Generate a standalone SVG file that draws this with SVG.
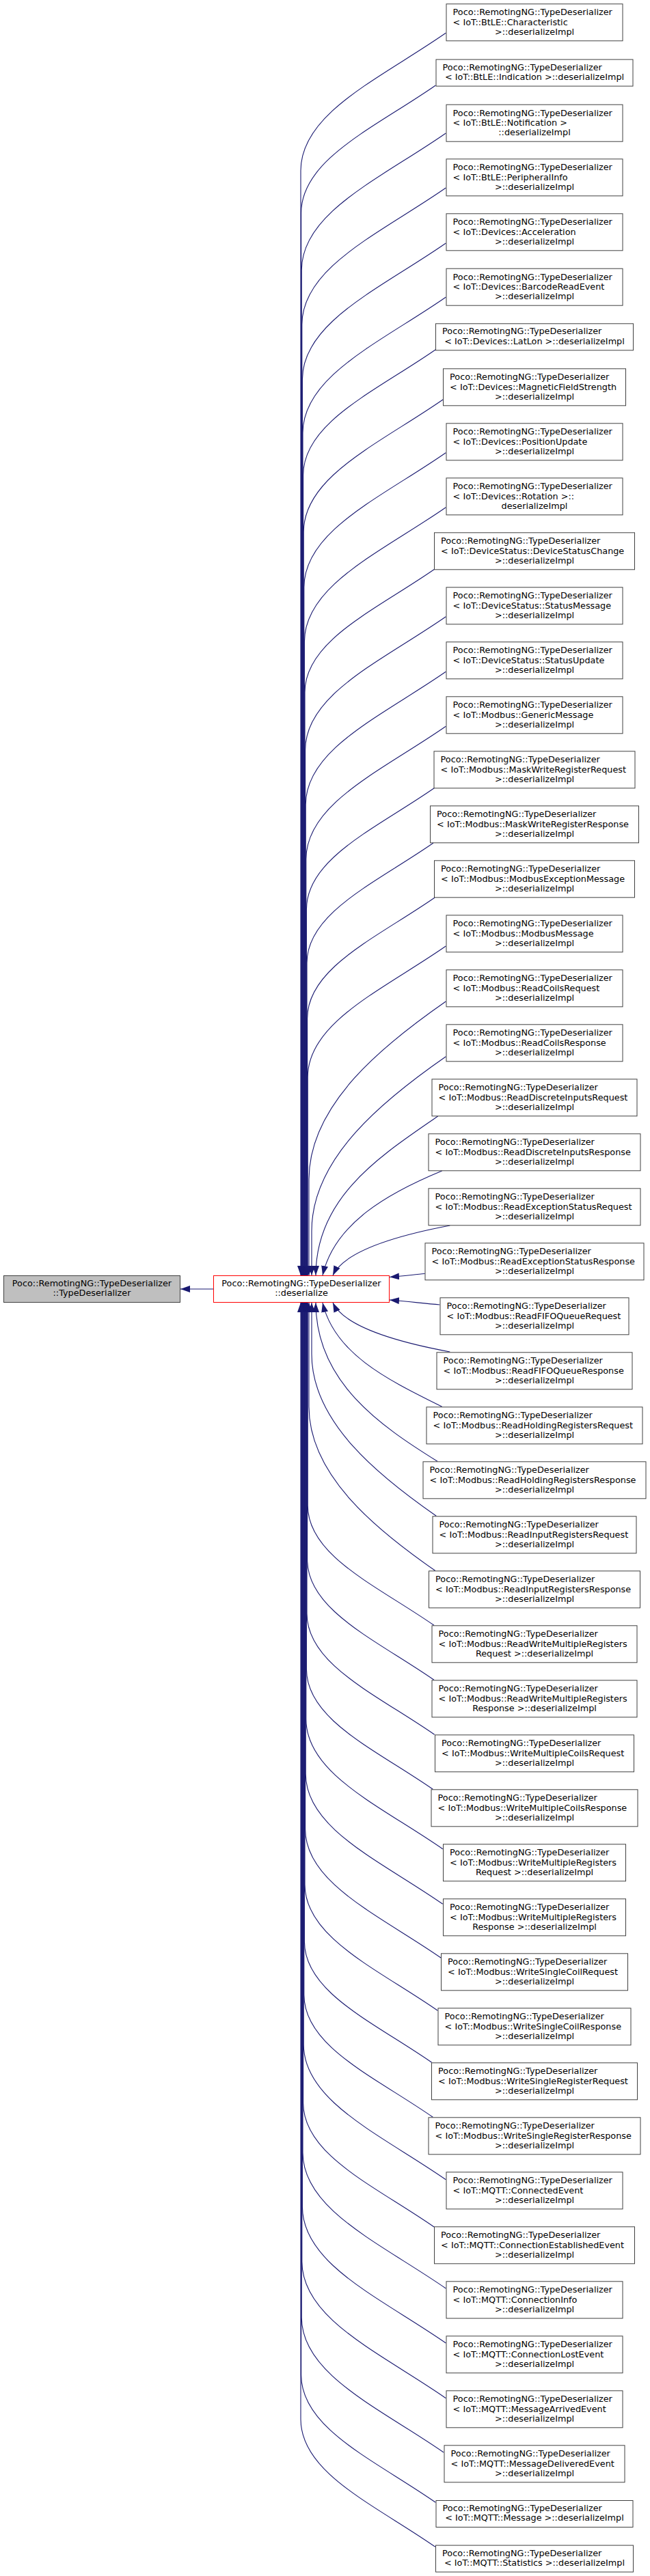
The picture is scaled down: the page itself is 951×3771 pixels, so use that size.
<svg xmlns="http://www.w3.org/2000/svg" width="951" height="3771" viewBox="0 0 951 3771">
<style>
text{font-family:"DejaVu Sans","Liberation Sans",sans-serif;font-size:12.8px;fill:#000}
.c{text-anchor:middle}
.node rect{fill:#fff;stroke:#404040;stroke-width:1}
#root rect{fill:#bfbfbf;stroke:#404040}
#deser rect{fill:#fff;stroke:#ff0000}
#edges path{fill:none;stroke:#191970;stroke-width:1.1;marker-end:url(#a)}
</style>
<defs>
<marker id="a" viewBox="0 0 14 10" refX="14" refY="5" markerWidth="14" markerHeight="10" markerUnits="userSpaceOnUse" orient="auto"><path d="M0,0 L14,5 L0,10 z" fill="#191970"/></marker>
</defs>
<rect width="951" height="3771" fill="#fff"/>
<g id="edges">
<path d="M312,1887 L264,1887"/>
<path d="M652.3,48.3 C556.6,114.9 440,165.1 440,250 L440,1867"/>
<path d="M637.3,125 C548.6,186.7 440.6,233.2 440.6,311.9 L440.6,1867"/>
<path d="M652.3,195 C557.1,261.2 441.2,311.1 441.2,395.5 L441.2,1867"/>
<path d="M652.3,275 C557.4,341 441.8,390.8 441.8,475 L441.8,1867"/>
<path d="M652.3,356 C557.6,421.8 442.4,471.4 442.4,555.4 L442.4,1867"/>
<path d="M652.3,435 C557.9,500.6 443,550.1 443,633.8 L443,1867"/>
<path d="M637,512 C549.8,572.6 443.6,618.4 443.6,695.7 L443.6,1867"/>
<path d="M648,585 C556.1,648.9 444.2,697.1 444.2,778.6 L444.2,1867"/>
<path d="M652.3,662.7 C558.7,727.8 444.8,776.8 444.8,859.8 L444.8,1867"/>
<path d="M652.3,742.7 C559,807.6 445.4,856.5 445.4,939.3 L445.4,1867"/>
<path d="M636,833 C550.3,892.6 446,937.5 446,1013.5 L446,1867"/>
<path d="M652.3,902.7 C559.5,967.2 446.6,1015.8 446.6,1098.1 L446.6,1867"/>
<path d="M652.3,983.3 C559.8,1047.6 447.2,1096.1 447.2,1178.1 L447.2,1867"/>
<path d="M652.3,1063.3 C560.1,1127.4 447.8,1175.8 447.8,1257.6 L447.8,1867"/>
<path d="M635.5,1153.5 C551.1,1212.2 448.4,1256.4 448.4,1331.2 L448.4,1867"/>
<path d="M634,1234 C550.6,1292 449,1335.8 449,1409.8 L449,1867"/>
<path d="M636,1314 C551.9,1372.4 449.6,1416.5 449.6,1491.1 L449.6,1867"/>
<path d="M652.3,1385 C561.2,1448.4 450.2,1496.2 450.2,1577 L450.2,1867"/>
<path d="M652.3,1466 C562,1528.8 452,1616.2 452,1726.4 L452,1867"/>
<path d="M652.3,1546.7 C563.8,1608.2 456,1693.9 456,1801.9 L456,1867"/>
<path d="M640.7,1634 C560.3,1689.9 462,1750.5 462,1867"/>
<path d="M646.7,1714 C568.5,1746.3 489.5,1790.5 472,1867"/>
<path d="M658.3,1794 C581.2,1808.6 504.1,1830.5 487,1867"/>
<path d="M621.7,1864.5 C605,1866 590,1868 570,1869.5"/>
<path d="M643.3,1910 C620,1908 595,1905 570,1903"/>
<path d="M658.3,1979 C581.2,1964.6 504.1,1943 487,1907"/>
<path d="M646.7,2059.3 C570.2,2021.1 489.5,1983 472,1907"/>
<path d="M640,2139.3 C556.7,2087.4 462,2023 462,1907"/>
<path d="M638.3,2219.3 C556.1,2162.1 456,2082.6 456,1982.3 L456,1907"/>
<path d="M636.7,2299.3 C553.4,2241.4 452,2160.8 452,2059.2 L452,1907"/>
<path d="M635,2379.3 C551.7,2321.4 450.2,2277.7 450.2,2203.7 L450.2,1907"/>
<path d="M635,2459.3 C551.4,2401.2 449.6,2357.3 449.6,2283.2 L449.6,1907"/>
<path d="M635.7,2539.3 C551.5,2480.8 449,2436.6 449,2361.9 L449,1907"/>
<path d="M633.3,2619.3 C549.9,2561.3 448.4,2517.6 448.4,2443.6 L448.4,1907"/>
<path d="M647.7,2706.7 C557.5,2644 447.8,2596.8 447.8,2516.8 L447.8,1907"/>
<path d="M647.7,2787.3 C557.3,2724.4 447.2,2677 447.2,2596.8 L447.2,1907"/>
<path d="M645,2866 C555.5,2803.8 446.6,2756.9 446.6,2677.5 L446.6,1907"/>
<path d="M640.3,2943.3 C552.7,2882.4 446,2836.4 446,2758.7 L446,1907"/>
<path d="M631.7,3019.3 C547.7,2960.9 445.4,2916.8 445.4,2842.3 L445.4,1907"/>
<path d="M633.3,3099.3 C548.3,3040.2 444.8,2995.6 444.8,2920.2 L444.8,1907"/>
<path d="M652.3,3190.7 C558.4,3125.5 444.2,3076.2 444.2,2993 L444.2,1907"/>
<path d="M635,3260 C548.7,3200 443.6,3154.7 443.6,3078.2 L443.6,1907"/>
<path d="M652.3,3350 C557.9,3284.4 443,3234.9 443,3151.2 L443,1907"/>
<path d="M652.3,3430 C557.6,3364.2 442.4,3314.6 442.4,3230.6 L442.4,1907"/>
<path d="M652.3,3510.7 C557.4,3444.7 441.8,3394.9 441.8,3310.7 L441.8,1907"/>
<path d="M649,3590 C555.3,3524.9 441.2,3475.7 441.2,3392.6 L441.2,1907"/>
<path d="M637.3,3663.3 C548.6,3601.6 440.6,3555.1 440.6,3476.4 L440.6,1907"/>
<path d="M636.7,3728.3 C548,3666.6 440,3620.1 440,3541.4 L440,1907"/>
</g>
<g id="root" class="node"><rect x="5.5" y="1867.5" width="258" height="39"/><text class="c" x="134.5" y="1882.9">Poco::RemotingNG::TypeDeserializer</text><text class="c" x="134.5" y="1897.2">::TypeDeserializer</text></g>
<g id="deser" class="node"><rect x="312.5" y="1867.5" width="257" height="39"/><text class="c" x="441" y="1882.9">Poco::RemotingNG::TypeDeserializer</text><text class="c" x="441" y="1897.2">::deserialize</text></g>
<g id="n1" class="node" transform="translate(782,32.8)"><rect x="-129" y="-27" width="258" height="54"/><text x="-119.4" y="-10.6">Poco::RemotingNG::TypeDeserializer</text><text x="-119.4" y="3.7">&lt; IoT::BtLE::Characteristic</text><text class="c" x="0" y="18">&gt;::deserializeImpl</text></g>
<g id="n2" class="node" transform="translate(782,106.6)"><rect x="-144" y="-19.5" width="288" height="39"/><text x="-134.4" y="-4.1">Poco::RemotingNG::TypeDeserializer</text><text class="c" x="0" y="10.2">&lt; IoT::BtLE::Indication &gt;::deserializeImpl</text></g>
<g id="n3" class="node" transform="translate(782,180.2)"><rect x="-129" y="-27" width="258" height="54"/><text x="-119.4" y="-10.6">Poco::RemotingNG::TypeDeserializer</text><text x="-119.4" y="3.7">&lt; IoT::BtLE::Notification &gt;</text><text class="c" x="0" y="18">::deserializeImpl</text></g>
<g id="n4" class="node" transform="translate(782,259.8)"><rect x="-129" y="-27" width="258" height="54"/><text x="-119.4" y="-10.6">Poco::RemotingNG::TypeDeserializer</text><text x="-119.4" y="3.7">&lt; IoT::BtLE::PeripheralInfo</text><text class="c" x="0" y="18">&gt;::deserializeImpl</text></g>
<g id="n5" class="node" transform="translate(782,339.8)"><rect x="-129" y="-27" width="258" height="54"/><text x="-119.4" y="-10.6">Poco::RemotingNG::TypeDeserializer</text><text x="-119.4" y="3.7">&lt; IoT::Devices::Acceleration</text><text class="c" x="0" y="18">&gt;::deserializeImpl</text></g>
<g id="n6" class="node" transform="translate(782,420.2)"><rect x="-129" y="-27" width="258" height="54"/><text x="-119.4" y="-10.6">Poco::RemotingNG::TypeDeserializer</text><text x="-119.4" y="3.7">&lt; IoT::Devices::BarcodeReadEvent</text><text class="c" x="0" y="18">&gt;::deserializeImpl</text></g>
<g id="n7" class="node" transform="translate(782,493.3)"><rect x="-144.5" y="-19.5" width="289" height="39"/><text x="-134.9" y="-4.1">Poco::RemotingNG::TypeDeserializer</text><text class="c" x="0" y="10.2">&lt; IoT::Devices::LatLon &gt;::deserializeImpl</text></g>
<g id="n8" class="node" transform="translate(782,566.8)"><rect x="-133.5" y="-27" width="267" height="54"/><text x="-123.9" y="-10.6">Poco::RemotingNG::TypeDeserializer</text><text x="-123.9" y="3.7">&lt; IoT::Devices::MagneticFieldStrength</text><text class="c" x="0" y="18">&gt;::deserializeImpl</text></g>
<g id="n9" class="node" transform="translate(782,646.8)"><rect x="-129" y="-27" width="258" height="54"/><text x="-119.4" y="-10.6">Poco::RemotingNG::TypeDeserializer</text><text x="-119.4" y="3.7">&lt; IoT::Devices::PositionUpdate</text><text class="c" x="0" y="18">&gt;::deserializeImpl</text></g>
<g id="n10" class="node" transform="translate(782,726.8)"><rect x="-129" y="-27" width="258" height="54"/><text x="-119.4" y="-10.6">Poco::RemotingNG::TypeDeserializer</text><text x="-119.4" y="3.7">&lt; IoT::Devices::Rotation &gt;::</text><text class="c" x="0" y="18">deserializeImpl</text></g>
<g id="n11" class="node" transform="translate(782,806.8)"><rect x="-146.5" y="-27" width="293" height="54"/><text x="-136.9" y="-10.6">Poco::RemotingNG::TypeDeserializer</text><text x="-136.9" y="3.7">&lt; IoT::DeviceStatus::DeviceStatusChange</text><text class="c" x="0" y="18">&gt;::deserializeImpl</text></g>
<g id="n12" class="node" transform="translate(782,886.8)"><rect x="-129" y="-27" width="258" height="54"/><text x="-119.4" y="-10.6">Poco::RemotingNG::TypeDeserializer</text><text x="-119.4" y="3.7">&lt; IoT::DeviceStatus::StatusMessage</text><text class="c" x="0" y="18">&gt;::deserializeImpl</text></g>
<g id="n13" class="node" transform="translate(782,966.8)"><rect x="-129" y="-27" width="258" height="54"/><text x="-119.4" y="-10.6">Poco::RemotingNG::TypeDeserializer</text><text x="-119.4" y="3.7">&lt; IoT::DeviceStatus::StatusUpdate</text><text class="c" x="0" y="18">&gt;::deserializeImpl</text></g>
<g id="n14" class="node" transform="translate(782,1046.8)"><rect x="-129" y="-27" width="258" height="54"/><text x="-119.4" y="-10.6">Poco::RemotingNG::TypeDeserializer</text><text x="-119.4" y="3.7">&lt; IoT::Modbus::GenericMessage</text><text class="c" x="0" y="18">&gt;::deserializeImpl</text></g>
<g id="n15" class="node" transform="translate(782,1126.8)"><rect x="-147" y="-27" width="294" height="54"/><text x="-137.4" y="-10.6">Poco::RemotingNG::TypeDeserializer</text><text x="-137.4" y="3.7">&lt; IoT::Modbus::MaskWriteRegisterRequest</text><text class="c" x="0" y="18">&gt;::deserializeImpl</text></g>
<g id="n16" class="node" transform="translate(782,1206.8)"><rect x="-152.5" y="-27" width="305" height="54"/><text x="-142.9" y="-10.6">Poco::RemotingNG::TypeDeserializer</text><text x="-142.9" y="3.7">&lt; IoT::Modbus::MaskWriteRegisterResponse</text><text class="c" x="0" y="18">&gt;::deserializeImpl</text></g>
<g id="n17" class="node" transform="translate(782,1286.8)"><rect x="-146.5" y="-27" width="293" height="54"/><text x="-136.9" y="-10.6">Poco::RemotingNG::TypeDeserializer</text><text x="-136.9" y="3.7">&lt; IoT::Modbus::ModbusExceptionMessage</text><text class="c" x="0" y="18">&gt;::deserializeImpl</text></g>
<g id="n18" class="node" transform="translate(782,1366.8)"><rect x="-129" y="-27" width="258" height="54"/><text x="-119.4" y="-10.6">Poco::RemotingNG::TypeDeserializer</text><text x="-119.4" y="3.7">&lt; IoT::Modbus::ModbusMessage</text><text class="c" x="0" y="18">&gt;::deserializeImpl</text></g>
<g id="n19" class="node" transform="translate(782,1446.8)"><rect x="-129" y="-27" width="258" height="54"/><text x="-119.4" y="-10.6">Poco::RemotingNG::TypeDeserializer</text><text x="-119.4" y="3.7">&lt; IoT::Modbus::ReadCoilsRequest</text><text class="c" x="0" y="18">&gt;::deserializeImpl</text></g>
<g id="n20" class="node" transform="translate(782,1526.8)"><rect x="-129" y="-27" width="258" height="54"/><text x="-119.4" y="-10.6">Poco::RemotingNG::TypeDeserializer</text><text x="-119.4" y="3.7">&lt; IoT::Modbus::ReadCoilsResponse</text><text class="c" x="0" y="18">&gt;::deserializeImpl</text></g>
<g id="n21" class="node" transform="translate(782,1606.8)"><rect x="-150" y="-27" width="300" height="54"/><text x="-140.4" y="-10.6">Poco::RemotingNG::TypeDeserializer</text><text x="-140.4" y="3.7">&lt; IoT::Modbus::ReadDiscreteInputsRequest</text><text class="c" x="0" y="18">&gt;::deserializeImpl</text></g>
<g id="n22" class="node" transform="translate(782,1686.8)"><rect x="-155" y="-27" width="310" height="54"/><text x="-145.4" y="-10.6">Poco::RemotingNG::TypeDeserializer</text><text x="-145.4" y="3.7">&lt; IoT::Modbus::ReadDiscreteInputsResponse</text><text class="c" x="0" y="18">&gt;::deserializeImpl</text></g>
<g id="n23" class="node" transform="translate(782,1766.8)"><rect x="-155" y="-27" width="310" height="54"/><text x="-145.4" y="-10.6">Poco::RemotingNG::TypeDeserializer</text><text x="-145.4" y="3.7">&lt; IoT::Modbus::ReadExceptionStatusRequest</text><text class="c" x="0" y="18">&gt;::deserializeImpl</text></g>
<g id="n24" class="node" transform="translate(782,1846.8)"><rect x="-160" y="-27" width="320" height="54"/><text x="-150.4" y="-10.6">Poco::RemotingNG::TypeDeserializer</text><text x="-150.4" y="3.7">&lt; IoT::Modbus::ReadExceptionStatusResponse</text><text class="c" x="0" y="18">&gt;::deserializeImpl</text></g>
<g id="n25" class="node" transform="translate(782,1926.8)"><rect x="-138" y="-27" width="276" height="54"/><text x="-128.4" y="-10.6">Poco::RemotingNG::TypeDeserializer</text><text x="-128.4" y="3.7">&lt; IoT::Modbus::ReadFIFOQueueRequest</text><text class="c" x="0" y="18">&gt;::deserializeImpl</text></g>
<g id="n26" class="node" transform="translate(782,2006.8)"><rect x="-143" y="-27" width="286" height="54"/><text x="-133.4" y="-10.6">Poco::RemotingNG::TypeDeserializer</text><text x="-133.4" y="3.7">&lt; IoT::Modbus::ReadFIFOQueueResponse</text><text class="c" x="0" y="18">&gt;::deserializeImpl</text></g>
<g id="n27" class="node" transform="translate(782,2086.8)"><rect x="-158" y="-27" width="316" height="54"/><text x="-148.4" y="-10.6">Poco::RemotingNG::TypeDeserializer</text><text x="-148.4" y="3.7">&lt; IoT::Modbus::ReadHoldingRegistersRequest</text><text class="c" x="0" y="18">&gt;::deserializeImpl</text></g>
<g id="n28" class="node" transform="translate(782,2166.8)"><rect x="-163" y="-27" width="326" height="54"/><text x="-153.4" y="-10.6">Poco::RemotingNG::TypeDeserializer</text><text x="-153.4" y="3.7">&lt; IoT::Modbus::ReadHoldingRegistersResponse</text><text class="c" x="0" y="18">&gt;::deserializeImpl</text></g>
<g id="n29" class="node" transform="translate(782,2246.8)"><rect x="-149" y="-27" width="298" height="54"/><text x="-139.4" y="-10.6">Poco::RemotingNG::TypeDeserializer</text><text x="-139.4" y="3.7">&lt; IoT::Modbus::ReadInputRegistersRequest</text><text class="c" x="0" y="18">&gt;::deserializeImpl</text></g>
<g id="n30" class="node" transform="translate(782,2326.8)"><rect x="-154.5" y="-27" width="309" height="54"/><text x="-144.9" y="-10.6">Poco::RemotingNG::TypeDeserializer</text><text x="-144.9" y="3.7">&lt; IoT::Modbus::ReadInputRegistersResponse</text><text class="c" x="0" y="18">&gt;::deserializeImpl</text></g>
<g id="n31" class="node" transform="translate(782,2406.8)"><rect x="-150" y="-27" width="300" height="54"/><text x="-140.4" y="-10.6">Poco::RemotingNG::TypeDeserializer</text><text x="-140.4" y="3.7">&lt; IoT::Modbus::ReadWriteMultipleRegisters</text><text class="c" x="0" y="18">Request &gt;::deserializeImpl</text></g>
<g id="n32" class="node" transform="translate(782,2486.8)"><rect x="-150" y="-27" width="300" height="54"/><text x="-140.4" y="-10.6">Poco::RemotingNG::TypeDeserializer</text><text x="-140.4" y="3.7">&lt; IoT::Modbus::ReadWriteMultipleRegisters</text><text class="c" x="0" y="18">Response &gt;::deserializeImpl</text></g>
<g id="n33" class="node" transform="translate(782,2566.8)"><rect x="-145.5" y="-27" width="291" height="54"/><text x="-135.9" y="-10.6">Poco::RemotingNG::TypeDeserializer</text><text x="-135.9" y="3.7">&lt; IoT::Modbus::WriteMultipleCoilsRequest</text><text class="c" x="0" y="18">&gt;::deserializeImpl</text></g>
<g id="n34" class="node" transform="translate(782,2646.8)"><rect x="-151" y="-27" width="302" height="54"/><text x="-141.4" y="-10.6">Poco::RemotingNG::TypeDeserializer</text><text x="-141.4" y="3.7">&lt; IoT::Modbus::WriteMultipleCoilsResponse</text><text class="c" x="0" y="18">&gt;::deserializeImpl</text></g>
<g id="n35" class="node" transform="translate(782,2726.8)"><rect x="-133.5" y="-27" width="267" height="54"/><text x="-123.9" y="-10.6">Poco::RemotingNG::TypeDeserializer</text><text x="-123.9" y="3.7">&lt; IoT::Modbus::WriteMultipleRegisters</text><text class="c" x="0" y="18">Request &gt;::deserializeImpl</text></g>
<g id="n36" class="node" transform="translate(782,2806.8)"><rect x="-133.5" y="-27" width="267" height="54"/><text x="-123.9" y="-10.6">Poco::RemotingNG::TypeDeserializer</text><text x="-123.9" y="3.7">&lt; IoT::Modbus::WriteMultipleRegisters</text><text class="c" x="0" y="18">Response &gt;::deserializeImpl</text></g>
<g id="n37" class="node" transform="translate(782,2886.8)"><rect x="-136.5" y="-27" width="273" height="54"/><text x="-126.9" y="-10.6">Poco::RemotingNG::TypeDeserializer</text><text x="-126.9" y="3.7">&lt; IoT::Modbus::WriteSingleCoilRequest</text><text class="c" x="0" y="18">&gt;::deserializeImpl</text></g>
<g id="n38" class="node" transform="translate(782,2966.8)"><rect x="-141" y="-27" width="282" height="54"/><text x="-131.4" y="-10.6">Poco::RemotingNG::TypeDeserializer</text><text x="-131.4" y="3.7">&lt; IoT::Modbus::WriteSingleCoilResponse</text><text class="c" x="0" y="18">&gt;::deserializeImpl</text></g>
<g id="n39" class="node" transform="translate(782,3046.8)"><rect x="-150.5" y="-27" width="301" height="54"/><text x="-140.9" y="-10.6">Poco::RemotingNG::TypeDeserializer</text><text x="-140.9" y="3.7">&lt; IoT::Modbus::WriteSingleRegisterRequest</text><text class="c" x="0" y="18">&gt;::deserializeImpl</text></g>
<g id="n40" class="node" transform="translate(782,3126.8)"><rect x="-155" y="-27" width="310" height="54"/><text x="-145.4" y="-10.6">Poco::RemotingNG::TypeDeserializer</text><text x="-145.4" y="3.7">&lt; IoT::Modbus::WriteSingleRegisterResponse</text><text class="c" x="0" y="18">&gt;::deserializeImpl</text></g>
<g id="n41" class="node" transform="translate(782,3206.8)"><rect x="-129" y="-27" width="258" height="54"/><text x="-119.4" y="-10.6">Poco::RemotingNG::TypeDeserializer</text><text x="-119.4" y="3.7">&lt; IoT::MQTT::ConnectedEvent</text><text class="c" x="0" y="18">&gt;::deserializeImpl</text></g>
<g id="n42" class="node" transform="translate(782,3286.8)"><rect x="-146.5" y="-27" width="293" height="54"/><text x="-136.9" y="-10.6">Poco::RemotingNG::TypeDeserializer</text><text x="-136.9" y="3.7">&lt; IoT::MQTT::ConnectionEstablishedEvent</text><text class="c" x="0" y="18">&gt;::deserializeImpl</text></g>
<g id="n43" class="node" transform="translate(782,3366.8)"><rect x="-129" y="-27" width="258" height="54"/><text x="-119.4" y="-10.6">Poco::RemotingNG::TypeDeserializer</text><text x="-119.4" y="3.7">&lt; IoT::MQTT::ConnectionInfo</text><text class="c" x="0" y="18">&gt;::deserializeImpl</text></g>
<g id="n44" class="node" transform="translate(782,3446.8)"><rect x="-129" y="-27" width="258" height="54"/><text x="-119.4" y="-10.6">Poco::RemotingNG::TypeDeserializer</text><text x="-119.4" y="3.7">&lt; IoT::MQTT::ConnectionLostEvent</text><text class="c" x="0" y="18">&gt;::deserializeImpl</text></g>
<g id="n45" class="node" transform="translate(782,3526.8)"><rect x="-129" y="-27" width="258" height="54"/><text x="-119.4" y="-10.6">Poco::RemotingNG::TypeDeserializer</text><text x="-119.4" y="3.7">&lt; IoT::MQTT::MessageArrivedEvent</text><text class="c" x="0" y="18">&gt;::deserializeImpl</text></g>
<g id="n46" class="node" transform="translate(782,3606.8)"><rect x="-132" y="-27" width="264" height="54"/><text x="-122.4" y="-10.6">Poco::RemotingNG::TypeDeserializer</text><text x="-122.4" y="3.7">&lt; IoT::MQTT::MessageDeliveredEvent</text><text class="c" x="0" y="18">&gt;::deserializeImpl</text></g>
<g id="n47" class="node" transform="translate(782,3680)"><rect x="-144" y="-19.5" width="288" height="39"/><text x="-134.4" y="-4.1">Poco::RemotingNG::TypeDeserializer</text><text class="c" x="0" y="10.2">&lt; IoT::MQTT::Message &gt;::deserializeImpl</text></g>
<g id="n48" class="node" transform="translate(782,3745.6)"><rect x="-144.5" y="-19.5" width="289" height="39"/><text x="-134.9" y="-4.1">Poco::RemotingNG::TypeDeserializer</text><text class="c" x="0" y="10.2">&lt; IoT::MQTT::Statistics &gt;::deserializeImpl</text></g>
</svg>
